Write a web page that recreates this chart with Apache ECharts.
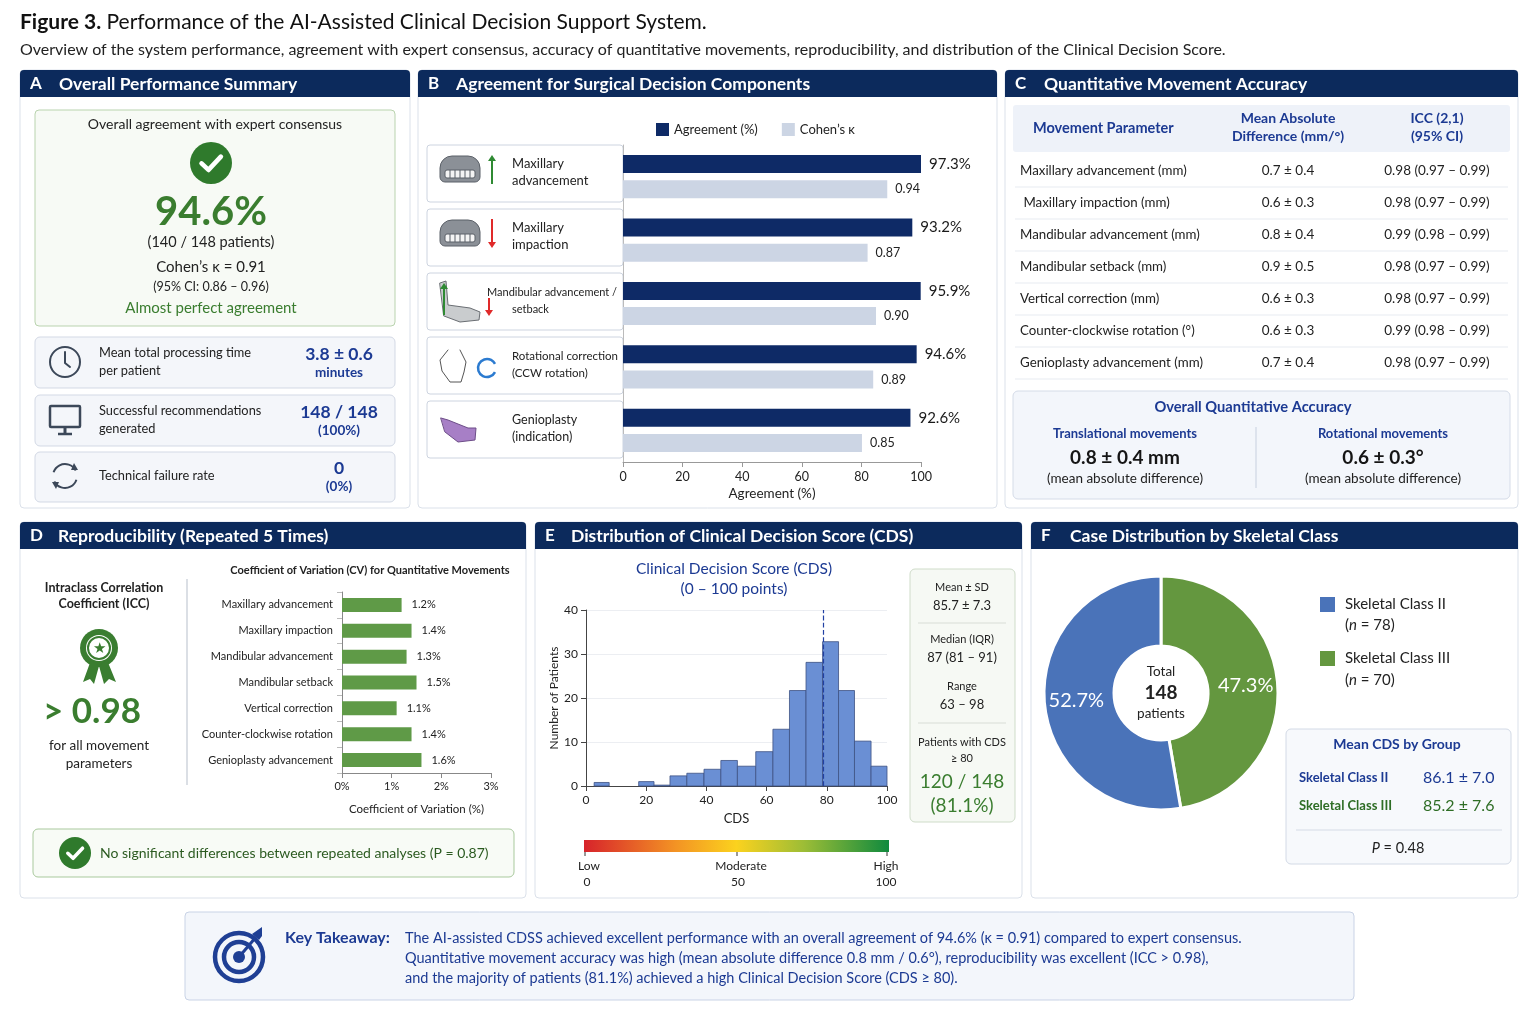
<!DOCTYPE html>
<html>
<head>
<meta charset="utf-8">
<title>Figure 3</title>
<script src="https://cdn.jsdelivr.net/npm/echarts@6/dist/echarts.min.js"></script>
<style>
  html, body { margin: 0; padding: 0; background: #fff; }
  #main { width: 1536px; height: 1024px; }
</style>
</head>
<body>
<div id="main"></div>
<script>
// data
var decisionItems = ['Maxillary advancement', 'Maxillary impaction', 'Mandibular advancement / setback', 'Rotational correction', 'Genioplasty'];
var agreementPct = [97.3, 93.2, 95.9, 94.6, 92.6];
var cohenKappa = [0.94, 0.87, 0.90, 0.89, 0.85];

var cvItems = ['Maxillary advancement', 'Maxillary impaction', 'Mandibular advancement', 'Mandibular setback', 'Vertical correction', 'Counter-clockwise rotation', 'Genioplasty advancement'];
var cvPct = [1.2, 1.4, 1.3, 1.5, 1.1, 1.4, 1.6];

// histogram bins of the CDS (start, end, count)
var binStart = [2.7, 17.5, 22.6, 27.9, 33.5, 39.2, 44.8, 50.3, 56.4, 62.1, 67.6, 73.1, 78.6, 83.9, 89.2, 94.7];
var binEnd   = [7.7, 22.6, 27.9, 33.5, 39.2, 44.8, 50.3, 56.4, 62.1, 67.6, 73.1, 78.6, 83.9, 89.2, 94.7, 100];
var binCount = [0.8, 1.0, 0.2, 2.3, 2.9, 3.8, 5.8, 4.5, 7.8, 12.9, 21.7, 28.1, 32.8, 21.7, 10.2, 4.5];
var refLineCDS = 78.7;

var classNames = ['Skeletal Class III', 'Skeletal Class II'];
var classCounts = [70, 78];
var classColors = ['#64973f', '#4a73b9'];

var tableRows = [
    ['Maxillary advancement (mm)', '0.7 \u00b1 0.4', '0.98 (0.97 \u2013 0.99)'],
    [' Maxillary impaction (mm)', '0.6 \u00b1 0.3', '0.98 (0.97 \u2013 0.99)'],
    ['Mandibular advancement (mm)', '0.8 \u00b1 0.4', '0.99 (0.98 \u2013 0.99)'],
    ['Mandibular setback (mm)', '0.9 \u00b1 0.5', '0.98 (0.97 \u2013 0.99)'],
    ['Vertical correction (mm)', '0.6 \u00b1 0.3', '0.98 (0.97 \u2013 0.99)'],
    ['Counter-clockwise rotation (\u00b0)', '0.6 \u00b1 0.3', '0.99 (0.98 \u2013 0.99)'],
    ['Genioplasty advancement (mm)', '0.7 \u00b1 0.4', '0.98 (0.97 \u2013 0.99)']
];

var FONT = 'Lato, "Noto Sans", sans-serif';
var NAVY = '#0c2a5c';
var BLUE_TXT = '#1c3a93';
var GREEN = '#3a7d2f';

var myChart = echarts.init(document.getElementById('main'));

// small helpers for the graphic layer
function T(x, y, s, o) {
    o = o || {};
    return {
        type: 'text', x: x, y: y, z: o.z || 20,
        style: {
            text: s, fill: o.c || '#222',
            font: (o.i ? 'italic ' : '') + (o.w || 'normal') + ' ' + (o.s || 13) + 'px ' + FONT,
            align: o.a || 'left', verticalAlign: 'middle',
            lineHeight: o.lh, rich: o.rich
        }
    };
}
function R(x, y, w, h, fill, stroke, r, z) {
    return { type: 'rect', z: z === undefined ? -5 : z, shape: { x: x, y: y, width: w, height: h, r: r || 0 },
        style: { fill: fill, stroke: stroke || null, lineWidth: 1 } };
}
function L(x1, y1, x2, y2, stroke, lw, z, dash) {
    return { type: 'line', z: z || 10, shape: { x1: x1, y1: y1, x2: x2, y2: y2 },
        style: { stroke: stroke, lineWidth: lw || 1, lineDash: dash || null } };
}
function C(cx, cy, r, fill, stroke, lw, z) {
    return { type: 'circle', z: z || 15, shape: { cx: cx, cy: cy, r: r },
        style: { fill: fill || null, stroke: stroke || null, lineWidth: lw || 1 } };
}
function P(pts, fill, stroke, lw, z) {
    return { type: fill ? 'polygon' : 'polyline', z: z || 16, shape: { points: pts },
        style: { fill: fill || null, stroke: stroke || null, lineWidth: lw || 1, lineJoin: 'round', lineCap: 'round' } };
}
function A(cx, cy, r, a0, a1, stroke, lw) {
    return { type: 'arc', z: 16, shape: { cx: cx, cy: cy, r: r, startAngle: a0, endAngle: a1 },
        style: { stroke: stroke, lineWidth: lw, fill: null } };
}
function panel(x, y, w, h, letter, title, off) {
    return [
        R(x, y, w, h, '#ffffff', '#dbe1ea', 4, -20),
        R(x, y, w, 27, NAVY, null, [4, 4, 0, 0], -19),
        T(x + 10, y + 14, letter, { c: '#fff', w: 'bold', s: 17 }),
        T(x + off, y + 14, title, { c: '#fff', w: 'bold', s: 17.5 })
    ];
}
function check(cx, cy, r) {
    return [C(cx, cy, r, '#2f7a2c'),
        P([[cx - r * 0.45, cy + r * 0.02], [cx - r * 0.12, cy + r * 0.33], [cx + r * 0.47, cy - r * 0.3]], null, '#fff', r * 0.22, 17)];
}
function upArrow(x, y1, y2, col) {
    return [L(x, y1, x, y2 + 5, col, 2, 16), P([[x - 4, y2 + 6], [x + 4, y2 + 6], [x, y2]], col, null, 1, 16)];
}
function downArrow(x, y1, y2, col) {
    return [L(x, y1, x, y2 - 5, col, 2, 16), P([[x - 4, y2 - 6], [x + 4, y2 - 6], [x, y2]], col, null, 1, 16)];
}
function teeth(x, y) {
    var g = [R(x, y, 40, 26, '#8b9097', '#5b6068', [12, 12, 5, 5], 15), R(x + 5, y + 14, 30, 8, '#f4f4f4', '#5b6068', 2, 16)];
    for (var i = 1; i < 6; i++) g.push(L(x + 5 + i * 5, y + 14, x + 5 + i * 5, y + 22, '#5b6068', 1, 17));
    return g;
}

var G = [];
// header
G.push(T(20, 22, '{b|Figure 3.} Performance of the AI-Assisted Clinical Decision Support System.', {
    s: 21, c: '#111', rich: { b: { font: 'bold 21px ' + FONT, fill: '#111' } }
}));
G.push(T(20, 50, 'Overview of the system performance, agreement with expert consensus, accuracy of quantitative movements, reproducibility, and distribution of the Clinical Decision Score.', { s: 16, c: '#222' }));

// panels
G = G.concat(panel(20, 70, 390, 438, 'A', 'Overall Performance Summary', 39));
G = G.concat(panel(418, 70, 579, 438, 'B', 'Agreement for Surgical Decision Components', 38));
G = G.concat(panel(1005, 70, 513, 438, 'C', 'Quantitative Movement Accuracy', 39));
G = G.concat(panel(20, 522, 506, 376, 'D', 'Reproducibility (Repeated 5 Times)', 38));
G = G.concat(panel(535, 522, 487, 376, 'E', 'Distribution of Clinical Decision Score (CDS)', 36));
G = G.concat(panel(1031, 522, 487, 376, 'F', 'Case Distribution by Skeletal Class', 39));

// ---- A
G.push(R(35, 110, 360, 216, '#f7faf5', '#b9d3ae', 4, -4));
G.push(T(215, 124, 'Overall agreement with expert consensus', { a: 'center', s: 14 }));
G = G.concat(check(211, 163, 21));
G.push(T(211, 212, '94.6%', { a: 'center', s: 40, w: 'bold', c: GREEN }));
G.push(T(211, 242, '(140 / 148 patients)', { a: 'center', s: 14.5 }));
G.push(T(211, 267, 'Cohen\u2019s \u03ba = 0.91', { a: 'center', s: 15 }));
G.push(T(211, 287, '(95% CI: 0.86 \u2013 0.96)', { a: 'center', s: 12.5 }));
G.push(T(211, 308, 'Almost perfect agreement', { a: 'center', s: 15, c: GREEN }));
[[337, 51], [395, 51], [452, 50]].forEach(function (b) { G.push(R(35, b[0], 360, b[1], '#f4f6fa', '#d3d9e5', 5, -4)); });
G.push(T(99, 353, 'Mean total processing time', { s: 12.8 }));
G.push(T(99, 371, 'per patient', { s: 12.8 }));
G.push(T(339, 354, '3.8 \u00b1 0.6', { a: 'center', s: 17.5, w: 'bold', c: BLUE_TXT }));
G.push(T(339, 373, 'minutes', { a: 'center', s: 13.5, w: 'bold', c: BLUE_TXT }));
G.push(T(99, 411, 'Successful recommendations', { s: 12.8 }));
G.push(T(99, 429, 'generated', { s: 12.8 }));
G.push(T(339, 412, '148 / 148', { a: 'center', s: 17.5, w: 'bold', c: BLUE_TXT }));
G.push(T(339, 431, '(100%)', { a: 'center', s: 13.5, w: 'bold', c: BLUE_TXT }));
G.push(T(99, 476, 'Technical failure rate', { s: 12.8 }));
G.push(T(339, 468, '0', { a: 'center', s: 17.5, w: 'bold', c: BLUE_TXT }));
G.push(T(339, 487, '(0%)', { a: 'center', s: 13.5, w: 'bold', c: BLUE_TXT }));
// icons of A
G.push(C(65, 362, 15, null, '#3c4859', 2));
G.push(P([[65, 352], [65, 363], [70, 367]], null, '#3c4859', 2));
G.push({ type: 'rect', z: 16, shape: { x: 50, y: 406, width: 30, height: 21, r: 1 }, style: { fill: null, stroke: '#3c4859', lineWidth: 2.5 } });
G.push(L(65, 427, 65, 433, '#3c4859', 3, 16));
G.push(L(58, 434, 72, 434, '#3c4859', 2.5, 16));
G.push(A(65, 476, 12, Math.PI * 1.1, Math.PI * 1.85, '#3c4859', 2));
G.push(A(65, 476, 12, Math.PI * 0.1, Math.PI * 0.85, '#3c4859', 2));
G.push(P([[74, 463], [78, 470], [71, 470]], '#3c4859'));
G.push(P([[56, 489], [52, 482], [59, 482]], '#3c4859'));

// ---- B cards
var cardLabels = [
    [['Maxillary', 'advancement'], 512, 13],
    [['Maxillary', 'impaction'], 512, 13],
    [['Mandibular advancement /', 'setback'], 487, 11],
    [['Rotational correction', '(CCW rotation)'], 512, 11.5],
    [['Genioplasty', '(indication)'], 512, 12.5]
];
for (var i = 0; i < 5; i++) {
    var cy = 145 + i * 64;
    G.push(R(427, cy, 196, 57, '#ffffff', '#cdd4e0', 3, -3));
    var lab = cardLabels[i];
    G.push(T(lab[1], cy + 19, lab[0][0], { s: lab[2] }));
    G.push(T(i === 2 ? 512 : lab[1], cy + 36, lab[0][1], { s: lab[2] }));
}
G = G.concat(teeth(440, 156), upArrow(492, 184, 155, '#2f8a33'));
G = G.concat(teeth(440, 220), downArrow(492, 219, 248, '#e02a2a'));
G.push(P([[440, 283], [446, 281], [448, 305], [470, 308], [480, 312], [479, 320], [460, 322], [444, 316]], '#c9ccce', '#6a6e73', 1));
G = G.concat(upArrow(444, 315, 283, '#2f8a33'), downArrow(489, 298, 316, '#e02a2a'));
G.push(P([[448, 350], [440, 360], [442, 371], [450, 382], [461, 382], [464, 372], [466, 362], [460, 350]], null, '#555', 1));
G.push(A(487, 368, 9, Math.PI * 0.15, Math.PI * 1.85, '#2c7bd0', 2.5));
G.push(P([[441, 418], [448, 420], [468, 428], [476, 428], [475, 440], [458, 442], [445, 432]], '#a77fc6', '#6d4d88', 1));

// ---- C table
G.push(R(1013, 105, 497, 47, '#eef2f9', null, 3, -4));
G.push(T(1033, 128, 'Movement Parameter', { s: 14.5, w: 'bold', c: BLUE_TXT }));
G.push(T(1288, 118, 'Mean Absolute', { a: 'center', s: 14, w: 'bold', c: BLUE_TXT }));
G.push(T(1288, 136, 'Difference (mm/\u00b0)', { a: 'center', s: 14, w: 'bold', c: BLUE_TXT }));
G.push(T(1437, 118, 'ICC (2,1)', { a: 'center', s: 14, w: 'bold', c: BLUE_TXT }));
G.push(T(1437, 136, '(95% CI)', { a: 'center', s: 14, w: 'bold', c: BLUE_TXT }));
tableRows.forEach(function (row, k) {
    var y = 171 + k * 32;
    G.push(T(1020, y, row[0], { s: 13.3 }));
    G.push(T(1288, y, row[1], { a: 'center', s: 13.5 }));
    G.push(T(1437, y, row[2], { a: 'center', s: 13.5 }));
    G.push(L(1015, y + 16, 1508, y + 16, '#e7ebf1', 1, 5));
});
G.push(R(1013, 391, 497, 108, '#f3f6fb', '#d5dce8', 5, -4));
G.push(T(1253, 407, 'Overall Quantitative Accuracy', { a: 'center', s: 14.7, w: 'bold', c: BLUE_TXT }));
G.push(L(1256, 427, 1256, 488, '#c7d0df', 1));
G.push(T(1125, 434, 'Translational movements', { a: 'center', s: 13, w: 'bold', c: BLUE_TXT }));
G.push(T(1125, 458, '0.8 \u00b1 0.4 mm', { a: 'center', s: 19, w: 'bold', c: '#151515' }));
G.push(T(1125, 479, '(mean absolute difference)', { a: 'center', s: 13.5 }));
G.push(T(1383, 434, 'Rotational movements', { a: 'center', s: 13, w: 'bold', c: BLUE_TXT }));
G.push(T(1383, 458, '0.6 \u00b1 0.3\u00b0', { a: 'center', s: 19, w: 'bold', c: '#151515' }));
G.push(T(1383, 479, '(mean absolute difference)', { a: 'center', s: 13.5 }));

// ---- D
G.push(T(104, 588, 'Intraclass Correlation', { a: 'center', s: 12.5, w: 'bold' }));
G.push(T(104, 604, 'Coefficient (ICC)', { a: 'center', s: 12.5, w: 'bold' }));
G.push(L(187, 579, 187, 785, '#cfd4dc', 1.5));
G.push(P([[91, 660], [83, 682], [90, 679], [94, 684], [99, 666]], '#3a7d30'));
G.push(P([[107, 660], [116, 682], [109, 679], [104, 684], [99, 666]], '#3a7d30'));
G.push(C(99, 648, 19, '#3a7d30'));
G.push(C(99, 648, 13, '#ffffff', null, 1, 17));
G.push(C(99, 648, 11, null, '#3a7d30', 2, 17));
G.push(T(99, 648, '\u2605', { a: 'center', s: 15, c: '#3a7d30', z: 18 }));
G.push(T(92, 712, '> 0.98', { a: 'center', s: 35, w: 'bold', c: GREEN }));
G.push(T(99, 746, 'for all movement', { a: 'center', s: 13.5 }));
G.push(T(99, 764, 'parameters', { a: 'center', s: 13.5 }));
G.push(T(370, 570, 'Coefficient of Variation (CV) for Quantitative Movements', { a: 'center', s: 11, w: 'bold' }));
G.push(R(33, 829, 481, 48, '#f8fbf6', '#a9c99d', 5, -4));
G = G.concat(check(75, 853, 16));
G.push(T(100, 853, 'No significant differences between repeated analyses (P = 0.87)', { s: 14, c: '#2b5a20' }));

// ---- E
G.push(T(734, 569, 'Clinical Decision Score (CDS)', { a: 'center', s: 15.5, c: BLUE_TXT }));
G.push(T(734, 589, '(0 \u2013 100 points)', { a: 'center', s: 15.5, c: BLUE_TXT }));
G.push(R(910, 569, 105, 253, '#f6f9f4', '#cfdcc9', 5, -4));
G.push(T(962, 587, 'Mean \u00b1 SD', { a: 'center', s: 11 }));
G.push(T(962, 606, '85.7 \u00b1 7.3', { a: 'center', s: 13 }));
G.push(L(918, 623, 1006, 623, '#d8ddd6', 1));
G.push(T(962, 639, 'Median (IQR)', { a: 'center', s: 11 }));
G.push(T(962, 658, '87 (81 \u2013 91)', { a: 'center', s: 13 }));
G.push(T(962, 686, 'Range', { a: 'center', s: 11 }));
G.push(T(962, 705, '63 \u2013 98', { a: 'center', s: 13 }));
G.push(L(918, 723, 1006, 723, '#d8ddd6', 1));
G.push(T(962, 742, 'Patients with CDS', { a: 'center', s: 11 }));
G.push(T(962, 758, '\u2265 80', { a: 'center', s: 11 }));
G.push(T(962, 782, '120 / 148', { a: 'center', s: 19, c: GREEN }));
G.push(T(962, 806, '(81.1%)', { a: 'center', s: 19, c: GREEN }));
G.push({
    type: 'rect', z: 10, shape: { x: 584, y: 840, width: 305, height: 12 },
    style: { fill: new echarts.graphic.LinearGradient(0, 0, 1, 0, [
        { offset: 0, color: '#d7232b' }, { offset: 0.3, color: '#f39324' }, { offset: 0.5, color: '#fbd21e' },
        { offset: 0.72, color: '#9dbd36' }, { offset: 1, color: '#108a3e' }]) }
});
[585, 737, 887].forEach(function (x) { G.push(L(x, 852, x, 856, '#333', 1)); });
G.push(T(578, 866, 'Low', { s: 12 }));
G.push(T(741, 866, 'Moderate', { a: 'center', s: 12 }));
G.push(T(886, 866, 'High', { a: 'center', s: 12 }));
G.push(T(587, 882, '0', { a: 'center', s: 12 }));
G.push(T(738, 882, '50', { a: 'center', s: 12 }));
G.push(T(886, 882, '100', { a: 'center', s: 12 }));

// ---- F
G.push(T(1161, 672, 'Total', { a: 'center', s: 13.5 }));
G.push(T(1161, 693, '148', { a: 'center', s: 19, w: 'bold' }));
G.push(T(1161, 714, 'patients', { a: 'center', s: 13.5 }));
G.push(R(1320, 597, 15, 15, classColors[1], null, 0, 10));
G.push(T(1345, 604, 'Skeletal Class II', { s: 15 }));
G.push(T(1345, 625, '({i|n} = ' + classCounts[1] + ')', { s: 15, rich: { i: { font: 'italic 15px ' + FONT, fill: '#222' } } }));
G.push(R(1320, 651, 15, 15, classColors[0], null, 0, 10));
G.push(T(1345, 658, 'Skeletal Class III', { s: 15 }));
G.push(T(1345, 680, '({i|n} = ' + classCounts[0] + ')', { s: 15, rich: { i: { font: 'italic 15px ' + FONT, fill: '#222' } } }));
G.push(R(1286, 729, 225, 135, '#f7f9fc', '#d3dae6', 5, -4));
G.push(T(1397, 744, 'Mean CDS by Group', { a: 'center', s: 14, w: 'bold', c: BLUE_TXT }));
G.push(T(1299, 778, 'Skeletal Class II', { s: 13, w: 'bold', c: BLUE_TXT }));
G.push(T(1423, 778, '86.1 \u00b1 7.0', { s: 16, c: BLUE_TXT }));
G.push(T(1299, 806, 'Skeletal Class III', { s: 13, w: 'bold', c: '#2e6d25' }));
G.push(T(1423, 806, '85.2 \u00b1 7.6', { s: 16, c: '#2e6d25' }));
G.push(L(1296, 830, 1502, 830, '#d5dbe6', 1));
G.push(T(1398, 848, '{i|P} = 0.48', { a: 'center', s: 14.5, rich: { i: { font: 'italic 14.5px ' + FONT, fill: '#222' } } }));

// ---- key takeaway
G.push(R(185, 912, 1169, 88, '#f3f6fb', '#c9d3e6', 4, -4));
G.push(C(239, 957, 24, null, '#1f3f94', 4.5));
G.push(C(239, 957, 15, null, '#1f3f94', 4.5));
G.push(C(239, 957, 6, '#1f3f94'));
G.push(L(239, 957, 256, 937, '#1f3f94', 3, 17));
G.push(P([[252, 934], [262, 927], [262, 936], [259, 940]], '#1f3f94'));
G.push(T(285, 938, 'Key Takeaway:', { s: 16, w: 'bold', c: BLUE_TXT }));
G.push(T(405, 938, 'The AI-assisted CDSS achieved excellent performance with an overall agreement of 94.6% (\u03ba = 0.91) compared to expert consensus.', { s: 14.5, c: BLUE_TXT }));
G.push(T(405, 958, 'Quantitative movement accuracy was high (mean absolute difference 0.8 mm / 0.6\u00b0), reproducibility was excellent (ICC > 0.98),', { s: 14.5, c: BLUE_TXT }));
G.push(T(405, 978, 'and the majority of patients (81.1%) achieved a high Clinical Decision Score (CDS \u2265 80).', { s: 14.5, c: BLUE_TXT }));

var axisTxt = { color: '#222', fontFamily: FONT };

var option = {
    backgroundColor: '#ffffff',
    textStyle: { fontFamily: FONT },
    animation: false,
    legend: [{
        data: ['Agreement (%)', 'Cohen\u2019s \u03ba'],
        left: 651, top: 118, itemWidth: 13, itemHeight: 13, itemGap: 24,
        icon: 'rect', textStyle: { fontSize: 13, color: '#222', fontFamily: FONT }
    }],
    grid: [
        { left: 623, top: 145, width: 298, height: 317 },
        { left: 342, top: 592, width: 149, height: 181 },
        { left: 586, top: 610, width: 301, height: 176 }
    ],
    xAxis: [
        {
            gridIndex: 0, type: 'value', min: 0, max: 100, interval: 20,
            name: 'Agreement (%)', nameLocation: 'middle', nameGap: 25,
            nameTextStyle: { fontSize: 13.5, color: '#222' },
            axisLine: { show: true, lineStyle: { color: '#999' } },
            axisTick: { show: true, lineStyle: { color: '#999' } },
            axisLabel: Object.assign({ fontSize: 12.5 }, axisTxt),
            splitLine: { show: false }
        },
        // the figure draws both bar groups on their own stretched scales
        { gridIndex: 0, type: 'value', min: 0, max: 1.06, show: false },
        {
            gridIndex: 1, type: 'value', min: 0, max: 3, interval: 1,
            name: 'Coefficient of Variation (%)', nameLocation: 'middle', nameGap: 30,
            nameTextStyle: { fontSize: 11.5, color: '#222' },
            axisLine: { show: true, lineStyle: { color: '#888' } },
            axisTick: { show: true, lineStyle: { color: '#888' } },
            axisLabel: Object.assign({ fontSize: 11, formatter: '{value}%' }, axisTxt),
            splitLine: { show: false }
        },
        {
            gridIndex: 2, type: 'value', min: 0, max: 100, interval: 20,
            name: 'CDS', nameLocation: 'middle', nameGap: 26,
            nameTextStyle: { fontSize: 13, color: '#222' },
            axisLine: { show: true, lineStyle: { color: '#444' } },
            axisTick: { show: true, lineStyle: { color: '#444' } },
            axisLabel: Object.assign({ fontSize: 12 }, axisTxt),
            splitLine: { show: false }
        },
        { gridIndex: 0, type: 'value', min: 0, max: 96, show: false }
    ],
    yAxis: [
        {
            gridIndex: 0, type: 'category', data: decisionItems, inverse: true,
            axisLine: { show: true, lineStyle: { color: '#bbb' } },
            axisTick: { show: false }, axisLabel: { show: false }
        },
        {
            gridIndex: 1, type: 'category', data: cvItems, inverse: true,
            axisLine: { show: true, lineStyle: { color: '#888' } },
            axisTick: { show: true, alignWithLabel: false, lineStyle: { color: '#bbb' } },
            axisLabel: Object.assign({ fontSize: 11, margin: 9 }, axisTxt)
        },
        {
            gridIndex: 2, type: 'value', min: 0, max: 40, interval: 10,
            name: 'Number of Patients', nameLocation: 'middle', nameGap: 26, nameRotate: 90,
            nameTextStyle: { fontSize: 12, color: '#222' },
            axisLine: { show: true, lineStyle: { color: '#444' } },
            axisTick: { show: true, lineStyle: { color: '#444' } },
            axisLabel: Object.assign({ fontSize: 12 }, axisTxt),
            splitLine: { show: true, lineStyle: { color: '#eceef2' } }
        }
    ],
    series: [
        {
            name: 'Agreement (%)', type: 'bar', xAxisIndex: 4, yAxisIndex: 0,
            data: agreementPct, barWidth: 18, barGap: '40%', barCategoryGap: '30%',
            itemStyle: { color: '#0e2a66' },
            label: { show: true, position: 'right', distance: 8, formatter: '{c}%', fontSize: 15, color: '#1a1a1a' }
        },
        {
            name: 'Cohen\u2019s \u03ba', type: 'bar', xAxisIndex: 1, yAxisIndex: 0,
            data: cohenKappa, barWidth: 18, barGap: '40%', barCategoryGap: '30%',
            itemStyle: { color: '#ccd5e4' },
            label: { show: true, position: 'right', distance: 8, fontSize: 12.5, color: '#222',
                formatter: function (p) { return p.value.toFixed(2); } }
        },
        {
            name: 'CV', type: 'bar', xAxisIndex: 2, yAxisIndex: 1,
            data: cvPct, barWidth: 14,
            itemStyle: { color: '#5f9a47' },
            label: { show: true, position: 'right', distance: 10, formatter: '{c}%', fontSize: 11, color: '#222' }
        },
        {
            name: 'CDS histogram', type: 'custom', xAxisIndex: 3, yAxisIndex: 2,
            data: binStart.map(function (s, k) { return [s, binEnd[k], binCount[k]]; }),
            encode: { x: [0, 1], y: 2 },
            renderItem: function (params, api) {
                var p0 = api.coord([api.value(0), api.value(2)]);
                var p1 = api.coord([api.value(1), 0]);
                return {
                    type: 'rect',
                    shape: { x: p0[0], y: p0[1], width: p1[0] - p0[0], height: p1[1] - p0[1] },
                    style: { fill: '#6a8fd4', stroke: '#3e5283', lineWidth: 0.8 }
                };
            },
            markLine: {
                silent: true, symbol: 'none', label: { show: false },
                lineStyle: { type: 'dashed', color: '#2140a3', width: 1.2 },
                data: [{ xAxis: refLineCDS }]
            },
            z: 3
        },
        {
            name: 'Skeletal class', type: 'pie', center: [1161, 693], radius: [47, 117],
            startAngle: 90, clockwise: true,
            data: classNames.map(function (n, k) { return { name: n, value: classCounts[k], itemStyle: { color: classColors[k] } }; }),
            itemStyle: { borderColor: '#ffffff', borderWidth: 3 },
            label: {
                show: true, position: 'inside', color: '#ffffff', fontSize: 20, fontFamily: FONT,
                formatter: function (p) { return p.percent.toFixed(1) + '%'; }
            },
            labelLine: { show: false }
        }
    ],
    graphic: { elements: G }
};

myChart.setOption(option);
</script>
</body>
</html>
